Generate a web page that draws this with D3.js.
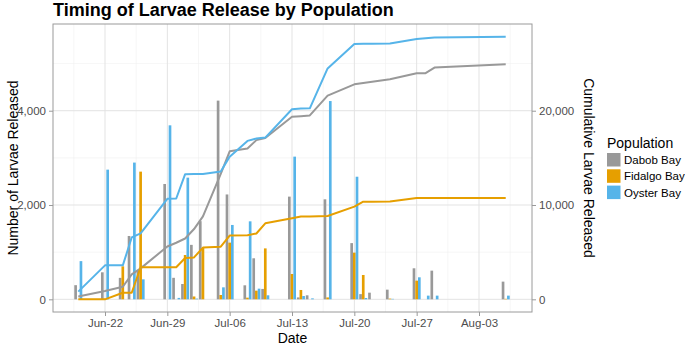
<!DOCTYPE html>
<html><head><meta charset="utf-8">
<script src="https://cdn.jsdelivr.net/npm/d3@7"></script>
<style>
body{margin:0;background:#fff;}
text{font-family:"Liberation Sans",Arial,Helvetica,sans-serif;}
</style></head>
<body><svg id="chart" width="685" height="345"></svg>
<script>
const dates = ["2017-06-19","2017-06-22","2017-06-24","2017-06-25","2017-06-26","2017-06-29","2017-06-30","2017-07-01","2017-07-02","2017-07-03","2017-07-05","2017-07-06","2017-07-08","2017-07-09","2017-07-10","2017-07-13","2017-07-14","2017-07-15","2017-07-17","2017-07-20","2017-07-21","2017-07-22","2017-07-24","2017-07-27","2017-07-28","2017-07-29","2017-08-06"];
const populations = ["Dabob Bay","Fidalgo Bay","Oyster Bay"];
const colors = ["#999999","#E69F00","#56B4E9"];
const dabobDaily   = [300,573,455,1343,620,2446,456,325,1155,1658,4214,2224,297,870,220,2178,40,85,2121,1192,110,141,205,658,0,608,375];
const fidalgoDaily = [0,0,700,0,2708,0,0,940,60,1090,92,1202,35,184,1080,537,198,0,40,990,516,0,15,396,0,0,10];
const oysterDaily  = [810,2750,0,2900,424,3690,30,2580,15,0,254,1577,1654,226,85,3026,70,20,4205,2600,28,0,10,467,78,78,78];
const dabobCum   = [300,873,1330,2650,3280,5600,6000,6450,7450,8800,13300,15700,16000,16880,17100,19350,19420,19500,21600,22800,22950,23080,23330,23970,23980,24570,24920];
const fidalgoCum = [0,0,700,700,3400,3400,3400,4380,4440,5490,5580,6760,6800,6980,8060,8600,8790,8790,8830,9830,10350,10350,10370,10740,10740,10740,10750];
const oysterCum  = [813,3600,3600,6560,6990,10660,10690,13270,13290,13300,13550,15130,16800,17050,17150,20150,20230,20250,24480,27080,27110,27110,27130,27600,27690,27770,27850];
const xTickDates = ["2017-06-22","2017-06-29","2017-07-06","2017-07-13","2017-07-20","2017-07-27","2017-08-03"];
const yTicksLeft = [0,2000,4000];
const yTicksRight = [0,10000,20000];
const yMinorLeft = [1000,3000,5000];

const parse = d3.utcParse("%Y-%m-%d");
const fmtDate = d3.utcFormat("%b-%d");
const fmtNum = d3.format(",");
const svg = d3.select("#chart");
const P = {l:53, r:532, t:24, b:312};
const DAY = 86400000;

const x = d3.scaleUtc().domain([parse("2017-06-22"), parse("2017-08-03")]).range([105, 479]);
const pxPerDay = (x(parse("2017-08-03")) - x(parse("2017-06-22"))) / 42;
const y = d3.scaleLinear().domain([-269, 5839]).range([P.b, P.t]);
const y2 = d3.scaleLinear().domain([-269*5, 5839*5]).range([P.b, P.t]);

// panel background & grid
svg.append("rect").attr("x",P.l).attr("y",P.t).attr("width",P.r-P.l).attr("height",P.b-P.t).attr("fill","#fff");
const g = svg.append("g");
const xt = xTickDates.map(parse);
const xMinor = xt.map(d => new Date(d.getTime() - 3.5*DAY)).concat([new Date(xt[xt.length-1].getTime()+3.5*DAY)]);
g.selectAll(".xmin").data(xMinor.filter(d=>x(d)>P.l&&x(d)<P.r)).join("line")
 .attr("x1",d=>x(d)).attr("x2",d=>x(d)).attr("y1",P.t).attr("y2",P.b).attr("stroke","#f0f0f0").attr("stroke-width",0.6);
g.selectAll(".ymin").data(yMinorLeft).join("line")
 .attr("x1",P.l).attr("x2",P.r).attr("y1",d=>y(d)).attr("y2",d=>y(d)).attr("stroke","#f0f0f0").attr("stroke-width",0.6);
g.selectAll(".xmaj").data(xt).join("line")
 .attr("x1",d=>x(d)).attr("x2",d=>x(d)).attr("y1",P.t).attr("y2",P.b).attr("stroke","#e3e3e3").attr("stroke-width",1);
g.selectAll(".ymaj").data(yTicksLeft).join("line")
 .attr("x1",P.l).attr("x2",P.r).attr("y1",d=>y(d)).attr("y2",d=>y(d)).attr("stroke","#e3e3e3").attr("stroke-width",1);

// bars
const daily = [dabobDaily, fidalgoDaily, oysterDaily];
const cum = [dabobCum, fidalgoCum, oysterCum];
const barW = 0.3*pxPerDay;
daily.forEach((arr,i)=>{
  svg.append("g").selectAll("rect").data(arr.map((v,j)=>({d:parse(dates[j]),v}))).join("rect")
   .attr("x",d=>x(d.d) + (i-1)*barW - barW/2)
   .attr("width",barW)
   .attr("y",d=>y(Math.max(d.v,0)))
   .attr("height",d=>y(0)-y(d.v))
   .attr("fill",colors[i]);
});
// lines
const line = d3.line().x(d=>x(d.d)).y(d=>y2(d.v));
cum.forEach((arr,i)=>{
  svg.append("path").datum(arr.map((v,j)=>({d:parse(dates[j]),v})))
   .attr("d",line).attr("fill","none").attr("stroke",colors[i]).attr("stroke-width",2).attr("stroke-linejoin","round");
});

// border
svg.append("rect").attr("x",P.l).attr("y",P.t).attr("width",P.r-P.l).attr("height",P.b-P.t)
 .attr("fill","none").attr("stroke","#9a9a9a").attr("stroke-width",1);

// axes
const axB = svg.append("g").attr("transform",`translate(0,${P.b})`)
 .call(d3.axisBottom(x).tickValues(xt).tickFormat(fmtDate).tickSize(4).tickPadding(3));
const axL = svg.append("g").attr("transform",`translate(${P.l},0)`)
 .call(d3.axisLeft(y).tickValues(yTicksLeft).tickFormat(fmtNum).tickSize(4).tickPadding(3));
const axR = svg.append("g").attr("transform",`translate(${P.r},0)`)
 .call(d3.axisRight(y2).tickValues(yTicksRight).tickFormat(fmtNum).tickSize(4).tickPadding(3));
[axB,axL,axR].forEach(a=>{
  a.select(".domain").remove();
  a.selectAll(".tick line").attr("stroke","#9a9a9a");
  a.selectAll(".tick text").attr("fill","#4d4d4d").style("font-size","11.5px").style("font-family",'"Liberation Sans",Arial,sans-serif');
});

// titles
svg.append("text").attr("x",53).attr("y",15.5).text("Timing of Larvae Release by Population")
 .style("font-size","18px").style("font-weight","bold").attr("fill","#000");
svg.append("text").attr("x",(P.l+P.r)/2).attr("y",343).attr("text-anchor","middle").text("Date")
 .style("font-size","14px").attr("fill","#000");
svg.append("text").attr("transform",`translate(18,${(P.t+P.b)/2}) rotate(-90)`).attr("text-anchor","middle")
 .text("Number of Larvae Released").style("font-size","14px").attr("fill","#000");
svg.append("text").attr("transform",`translate(584,${(P.t+P.b)/2}) rotate(90)`).attr("text-anchor","middle")
 .text("Cumulative Larvae Released").style("font-size","14px").attr("fill","#000");

// legend
const lg = svg.append("g").attr("transform","translate(607,0)");
lg.append("text").attr("x",0).attr("y",148).text("Population").style("font-size","14px").attr("fill","#000");
populations.forEach((p,i)=>{
  const yy = 153 + i*16.3;
  lg.append("rect").attr("x",0).attr("y",yy).attr("width",13.5).attr("height",13.5).attr("fill",colors[i]);
  lg.append("text").attr("x",17).attr("y",yy+6.9).attr("dominant-baseline","central").text(p)
   .style("font-size","11.5px").attr("fill","#000");
});
</script></body></html>
